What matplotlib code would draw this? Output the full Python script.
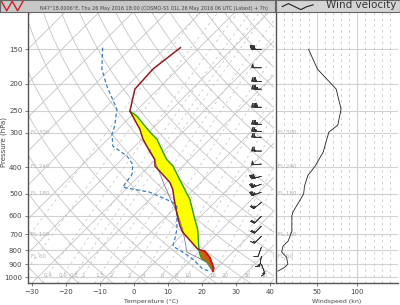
import numpy as np
import matplotlib
matplotlib.use('Agg')
import matplotlib.pyplot as plt
from matplotlib.ticker import FixedLocator, NullLocator

# ---------------- data ----------------
pressure_ticks = [150, 200, 250, 300, 400, 500, 600, 700, 800, 900, 1000]
temp_ticks = [-30, -20, -10, 0, 10, 20, 30, 40]
wind_ticks = [50, 100]

# environment temperature (hPa, degC)
p_temp = [148, 177, 209, 251, 292, 317, 353, 375, 397, 454, 481, 536, 592, 654, 688, 792, 806, 847, 928, 951]
t_temp = [-55.6, -57.4, -56.8, -51.8, -43.5, -39.7, -33.8, -30.3, -28.2, -19.1, -16.2, -11.8, -7.6, -3.2, -0.6, 8.8, 11.5, 14.7, 19.1, 19.7]

# lifted parcel
p_parcel = [251, 262, 299, 317, 353, 375, 397, 443, 523, 617, 671, 785, 826, 861, 883, 936, 951]
t_parcel = [-51.8, -48.2, -39.7, -35.6, -30.0, -26.8, -22.9, -17.1, -8.2, -0.9, 2.9, 8.8, 10.9, 12.9, 15.3, 18.8, 19.7]

# dew point
p_dew = [148, 177, 204, 247, 285, 304, 336, 365, 391, 424, 461, 473, 493, 536, 554, 671, 729, 773, 812, 861, 897, 936, 951]
t_dew = [-78.5, -72.4, -65.9, -56.2, -51.8, -50.3, -46.5, -39.4, -35.3, -32.6, -31.8, -31.5, -22.1, -12.4, -10.0, -3.2, -0.9, 0.6, 5.3, 10.3, 13.2, 16.2, 18.8]

# wet bulb (thin line)
p_wet = [345, 365, 469, 536, 592, 671, 812, 883, 943]
t_wet = [-34.7, -31.8, -19.4, -12.6, -7.4, -1.5, 6.5, 15.3, 19.1]

# wind speed profile (kn)
p_wind = [150, 177, 209, 247, 282, 299, 353, 397, 430, 469, 500, 530, 580, 600, 682, 740, 773, 812, 847, 897, 920, 951]
spd_wind = [40, 51, 74, 80, 76, 65, 58, 48, 39, 35, 34, 29, 21, 19.5, 19.5, 15, 8.5, 7, 13, 14.6, 11, 2.4]

# wind barbs
p_barb = [150, 175, 196, 209, 243, 280, 297, 312, 350, 390, 432, 461, 493, 536, 602, 654, 711, 779, 840, 897]
spd_barb = [40, 50, 70, 74, 80, 77, 65, 62, 58, 50, 42, 36, 33, 27, 19, 19, 17, 9, 14, 13]
dir_barb = [270, 270, 270, 270, 270, 270, 270, 270, 270, 265, 255, 250, 250, 230, 225, 225, 225, 200, 190, 160]

mixing_ratios = [0.1, 0.2, 0.4, 0.6, 0.8, 1, 1.5, 2, 3, 4, 6, 8, 10, 16, 20, 30, 40]
mr_labels = ['0.1', '0.2', '0.4', '0.6', '0.8', '1', '1.5', '2', '3', '4', '6', '8', '10', '16', '20', '30', '40']

fl_names = ['FL 300', 'FL 240', 'FL 180', 'FL 100', 'FL 60']
fl_pressures = [301, 397, 497, 699, 839]

header_text = "N47\u00b018.0006\u00b0E, Thu 26 May 2016 18:00 (COSMO-S1 01L 26 May 2016 06 UTC (Latest) + 7h)"

# ---------------- helpers ----------------
P_BOT, P_TOP = 1050.0, 110.0
K = 35.35


def skew(T, p):
    return np.asarray(T, float) + K * np.log(P_BOT / np.asarray(p, float))


fig = plt.figure(figsize=(4.0, 3.05), dpi=100)
fig.patch.set_facecolor('white')

ax = fig.add_axes([0.07, 0.0721, 0.615, 0.8885])
ax.set_yscale('log')
ax.set_ylim(P_BOT, P_TOP)
ax.set_xlim(-31.2, 41.2)

pp = np.geomspace(P_BOT, P_TOP, 120)
GRID = '#c4c4c4'
# isobars
for p in pressure_ticks:
    ax.axhline(p, color='#d2d2d2', lw=0.8, zorder=1)
# isotherms
for T in range(-130, 50, 10):
    ax.plot(skew(np.full_like(pp, T), pp), pp, color=GRID, lw=0.6, zorder=1)
# dry adiabats
for th in range(-40, 250, 10):
    T = (th + 273.15) * (pp / 1000.0) ** 0.2857 - 273.15
    ax.plot(skew(T, pp), pp, color=GRID, lw=0.6, zorder=1)
# mixing ratio lines
for w, lab in zip(mixing_ratios, mr_labels):
    e = w * pp / (622.0 + w)
    lr = np.log(e / 6.112)
    td = 243.5 * lr / (17.67 - lr)
    ax.plot(skew(td, pp), pp, color='#c8c8c8', lw=0.6, ls=(0, (3, 4)), zorder=1)
    e0 = w * 985 / (622.0 + w)
    l0 = np.log(e0 / 6.112)
    x0 = float(skew(243.5 * l0 / (17.67 - l0), 985))
    if -30.5 < x0 < 40.5:
        ax.text(x0, 985, lab, fontsize=4, color='#b0b0b0', ha='center', va='center', zorder=2)

# FL labels
for name, p in zip(fl_names, fl_pressures):
    ax.text(-30.2, p, name, fontsize=4, color='#b0b0b0', va='center', ha='left', zorder=2)

# CAPE / CIN fills
lp = np.linspace(np.log(785), np.log(251), 150)
env_c = np.interp(lp, np.log(p_temp), t_temp)
par_c = np.interp(lp, np.log(p_parcel), t_parcel)
pc = np.exp(lp)
ax.fill_betweenx(pc, skew(env_c, pc), skew(par_c, pc), color='#ffff00', lw=0, zorder=3)
lp2 = np.linspace(np.log(951), np.log(785), 80)
env_b = np.interp(lp2, np.log(p_temp), t_temp)
par_b = np.interp(lp2, np.log(p_parcel), t_parcel)
pb = np.exp(lp2)
ax.fill_betweenx(pb, skew(par_b, pb), skew(env_b, pb), color='#c8600f', lw=0, zorder=3)

ax.plot(skew(t_parcel, p_parcel), p_parcel, color='#2aa000', lw=1.0, zorder=4)
ax.plot(skew(t_wet, p_wet), p_wet, color='#8a7a9a', lw=0.6, zorder=4)
ax.plot(skew(t_dew, p_dew), p_dew, color='#3a7cc0', lw=0.9, ls=(0, (3, 2)), zorder=5)
ax.plot(skew(t_temp, p_temp), p_temp, color='#8b1e1e', lw=1.1, zorder=6)
ax.plot(skew(t_temp[-4:], p_temp[-4:]), p_temp[-4:], color='#e01010', lw=1.1, zorder=6)

# wind barbs
d = np.deg2rad(dir_barb)
u = -np.asarray(spd_barb) * np.sin(d)
v = -np.asarray(spd_barb) * np.cos(d)
ax.barbs(np.full(len(p_barb), 37.5), p_barb, u, v, length=3.8, lw=0.5,
         color='#333333', zorder=7, sizes=dict(emptybarb=0.0))

ax.yaxis.set_major_locator(FixedLocator(pressure_ticks))
ax.yaxis.set_minor_locator(NullLocator())
ax.set_yticklabels([str(p) for p in pressure_ticks])
ax.xaxis.set_major_locator(FixedLocator(temp_ticks))
ax.tick_params(axis='both', labelsize=5, length=2, width=0.5, colors='#444444', pad=2)
ax.set_ylabel('Pressure (hPa)', fontsize=5, color='#444444')
ax.yaxis.set_label_coords(-0.085, 0.52)
ax.set_xlabel('Temperature (\u00b0C)', fontsize=4.5, color='#444444', labelpad=3)
for s in ['top', 'right']:
    ax.spines[s].set_visible(False)
for s in ['left', 'bottom']:
    ax.spines[s].set_color('#555555')
    ax.spines[s].set_linewidth(1.0)

# ---------------- wind panel ----------------
aw = fig.add_axes([0.69, 0.0721, 0.305, 0.8885])
aw.set_yscale('log')
aw.set_ylim(P_BOT, P_TOP)
aw.set_xlim(0, 150)
for p in pressure_ticks:
    aw.axhline(p, color='#d2d2d2', lw=0.8, zorder=1)
for x in range(10, 150, 10):
    if x % 50:
        aw.axvline(x, color='#c8c8c8', lw=0.6, ls=(0, (3, 4)), zorder=1)
    else:
        aw.axvline(x, color='#d2d2d2', lw=0.8, zorder=1)
for name, p in zip(fl_names, fl_pressures):
    aw.text(3, p, name, fontsize=4, color='#b0b0b0', va='center', ha='left', zorder=2)
aw.plot(spd_wind, p_wind, color='#222222', lw=0.6, zorder=3)
aw.yaxis.set_major_locator(NullLocator())
aw.yaxis.set_minor_locator(NullLocator())
aw.xaxis.set_major_locator(FixedLocator(wind_ticks))
aw.tick_params(axis='x', labelsize=5, length=2, width=0.5, colors='#444444', pad=2)
aw.set_xlabel('Windspeed (kn)', fontsize=4.5, color='#444444', labelpad=3)
for s in ['top', 'right']:
    aw.spines[s].set_visible(False)
for s in ['left', 'bottom']:
    aw.spines[s].set_color('#555555')
    aw.spines[s].set_linewidth(1.0)

# ---------------- headers ----------------
h1 = fig.add_axes([0.0, 1 - 12 / 305, 0.6875, 12 / 305])
h1.set_xlim(0, 1); h1.set_ylim(0, 1)
h1.set_facecolor('#c8c8c8')
h1.set_xticks([]); h1.set_yticks([])
for s in h1.spines.values():
    s.set_color('#666666'); s.set_linewidth(0.8)
zx = np.linspace(0.005, 0.13, 7)
zy = [0.9, 0.1, 0.9, 0.1, 0.9, 0.1, 0.9]
h1.plot(zx[:5] * 0.95, zy[:5], color='#d02020', lw=1.0)
h1.text(0.145, 0.3, header_text, fontsize=3.5, color='#444444', va='center', ha='left')

h2 = fig.add_axes([0.69, 1 - 12 / 305, 0.31, 12 / 305])
h2.set_xlim(0, 1); h2.set_ylim(0, 1)
h2.set_facecolor('#d4d4d4')
h2.set_xticks([]); h2.set_yticks([])
for s in h2.spines.values():
    s.set_color('#666666'); s.set_linewidth(0.8)
h2.plot([0.05, 0.1, 0.15, 0.2, 0.25, 0.3], [0.45, 0.7, 0.45, 0.2, 0.45, 0.6], color='#222222', lw=0.8)
h2.text(0.4, 0.6, 'Wind velocity', fontsize=7.5, color='#333333', va='center', ha='left')

fig.savefig('out.png', dpi=100)
